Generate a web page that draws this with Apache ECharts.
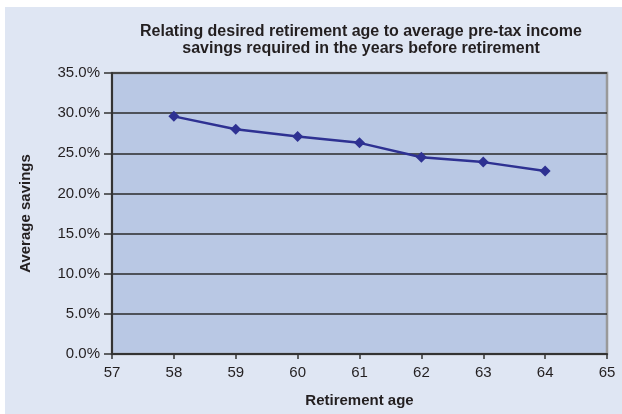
<!DOCTYPE html>
<html>
<head>
<meta charset="utf-8">
<script src="https://cdn.jsdelivr.net/npm/echarts@6/dist/echarts.min.js"></script>
<style>
html,body{margin:0;padding:0;background:#fff;}
#chart{width:622px;height:414px;}
</style>
</head>
<body>
<div id="chart"></div>
<script>
const ages = [58, 59, 60, 61, 62, 63, 64];
const savings = [29.6, 28.0, 27.1, 26.3, 24.5, 23.9, 22.8];
const titleLines = ['Relating desired retirement age to average pre-tax income', 'savings required in the years before retirement'];
const xName = 'Retirement age';
const yName = 'Average savings';

const chart = echarts.init(document.getElementById('chart'), null, {renderer: 'canvas'});
const font = 'Liberation Sans, Arial, Helvetica, sans-serif';
chart.setOption({
  backgroundColor: '#ffffff',
  animation: false,
  graphic: [{
    type: 'rect', z: -10, silent: true,
    shape: {x: 5, y: 7, width: 617, height: 407},
    style: {fill: '#dfe6f3'}
  }],
  title: {
    text: titleLines.join('\n'),
    left: 356, top: 18, textAlign: 'center',
    textStyle: {fontFamily: font, fontSize: 16, fontWeight: 'bold', color: '#231f20', lineHeight: 17}
  },
  grid: {
    left: 112, right: 15, top: 73, bottom: 60,
    show: true, backgroundColor: '#b9c8e4', borderColor: '#999999', borderWidth: 2.5
  },
  xAxis: {
    type: 'value', min: 57, max: 65, interval: 1,
    name: xName, nameLocation: 'middle', nameGap: 39,
    nameTextStyle: {fontFamily: font, fontSize: 15, fontWeight: 'bold', color: '#231f20'},
    axisLine: {show: true, lineStyle: {color: '#333333', width: 2}},
    axisTick: {show: true, length: 5, lineStyle: {color: '#333333', width: 1.5}},
    axisLabel: {fontFamily: font, fontSize: 15, color: '#231f20', margin: 11},
    splitLine: {show: false}
  },
  yAxis: {
    type: 'value', min: 0, max: 35, interval: 5,
    name: yName, nameLocation: 'middle', nameGap: 79, nameRotate: 90,
    nameTextStyle: {fontFamily: font, fontSize: 15, fontWeight: 'bold', color: '#231f20'},
    axisLine: {show: true, lineStyle: {color: '#333333', width: 2}},
    axisTick: {show: true, inside: false, length: 8, lineStyle: {color: '#333333', width: 1.5}},
    axisLabel: {fontFamily: font, fontSize: 15, color: '#231f20', margin: 12,
      formatter: v => v.toFixed(1) + '%'},
    splitLine: {show: true, lineStyle: {color: '#2b2b2b', width: 1.5}}
  },
  series: [{
    type: 'line',
    data: ages.map((a, i) => [a, savings[i]]),
    symbol: 'diamond', symbolSize: 11,
    lineStyle: {color: '#2e3192', width: 2.5},
    itemStyle: {color: '#2e3192'}
  }]
});
</script>
</body>
</html>
